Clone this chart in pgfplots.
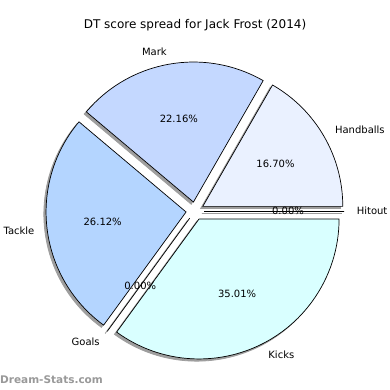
\documentclass[border=0pt]{standalone}
\usepackage{pgfplots}
\pgfplotsset{compat=1.18}
\usepackage{fontspec}
\setmainfont{DejaVu Sans}
\definecolor{cHand}{RGB}{234,241,255}
\definecolor{cMark}{RGB}{196,216,255}
\definecolor{cTack}{RGB}{180,213,255}
\definecolor{cKick}{RGB}{217,255,255}
\definecolor{cShad}{RGB}{158,158,158}
\def\cx{195}\def\cy{179.1}\def\R{140}\def\ex{9}
% #1 start angle, #2 end angle
\newcommand\shadowwedge[2]{%
  \pgfmathsetmacro\mid{(#1+#2)/2}%
  \pgfmathsetmacro\ox{\cx+\ex*cos(\mid)-2.2}%
  \pgfmathsetmacro\oy{\cy+\ex*sin(\mid)-2.2}%
  \edef\temp{\noexpand\filldraw[fill=cShad,draw=cShad,line width=0.8pt] (axis cs:\ox,\oy) -- ++(#1:\R pt) arc[start angle=#1,end angle=#2,radius=\R pt] -- cycle;}%
  \temp}
% #1 start, #2 end, #3 colour
\newcommand\piewedge[3]{%
  \pgfmathsetmacro\mid{(#1+#2)/2}%
  \pgfmathsetmacro\ox{\cx+\ex*cos(\mid)}%
  \pgfmathsetmacro\oy{\cy+\ex*sin(\mid)}%
  \edef\temp{\noexpand\filldraw[fill=#3,draw=black,line width=0.7pt,line join=miter] (axis cs:\ox,\oy) -- ++(#1:\R pt) arc[start angle=#1,end angle=#2,radius=\R pt] -- cycle;}%
  \temp}
% #1 start, #2 end, #3 label, #4 pct, #5 anchor
\newcommand\pielabel[5]{%
  \pgfmathsetmacro\mid{(#1+#2)/2}%
  \pgfmathsetmacro\ox{\cx+\ex*cos(\mid)}%
  \pgfmathsetmacro\oy{\cy+\ex*sin(\mid)}%
  \pgfmathsetmacro\lx{\ox+1.09*\R*cos(\mid)}%
  \pgfmathsetmacro\ly{\oy+1.09*\R*sin(\mid)}%
  \pgfmathsetmacro\px{\ox+0.6*\R*cos(\mid)}%
  \pgfmathsetmacro\py{\oy+0.6*\R*sin(\mid)}%
  \edef\temp{\noexpand\node[anchor=#5,inner sep=0pt,font=\noexpand\fontsize{10}{12}\noexpand\selectfont] at (axis cs:\lx,\ly) {#3};
  \noexpand\node[anchor=center,inner sep=0pt,font=\noexpand\fontsize{10}{12}\noexpand\selectfont] at (axis cs:\px,\py) {#4\noexpand\%};}%
  \temp}
\begin{document}
\begin{tikzpicture}
\begin{axis}[x=1pt,y=1pt,xmin=0,xmax=390,ymin=0,ymax=390,hide axis,clip=false,scale only axis]
\fill[white] (axis cs:0,0) rectangle (axis cs:390,390);
% shares (percent): Handballs 16.70, Mark 22.16, Tackle 26.12, Goals 0.00, Kicks 35.01, Hitout 0.00
\shadowwedge{0}{60.12}
\shadowwedge{60.12}{139.896}
\shadowwedge{139.896}{233.928}
\shadowwedge{233.928}{233.928}
\shadowwedge{233.928}{359.964}
\shadowwedge{360}{360}
\piewedge{0}{60.12}{cHand}
\piewedge{60.12}{139.896}{cMark}
\piewedge{139.896}{233.928}{cTack}
\piewedge{233.928}{233.928}{white}
\piewedge{233.928}{359.964}{cKick}
\piewedge{360}{360}{white}
\pielabel{0}{60.12}{Handballs}{16.70}{west}
\pielabel{60.12}{139.896}{Mark}{22.16}{east}
\pielabel{139.896}{233.928}{Tackle}{26.12}{east}
\pielabel{233.928}{233.928}{Goals}{0.00}{east}
\pielabel{233.928}{359.964}{Kicks}{35.01}{west}
\pielabel{360}{360}{Hitout}{0.00}{west}
\node[anchor=center,inner sep=0pt,font=\fontsize{12}{14}\selectfont] at (axis cs:195,365) {DT score spread for Jack Frost (2014)};
\node[anchor=west,inner sep=0pt,text=black!40,font=\fontsize{10.5}{12}\selectfont\bfseries] at (axis cs:0,10) {Dream-Stats.com};
\end{axis}
\pgfresetboundingbox
\path (0,0) rectangle (390pt,390pt);
\end{tikzpicture}
\end{document}
